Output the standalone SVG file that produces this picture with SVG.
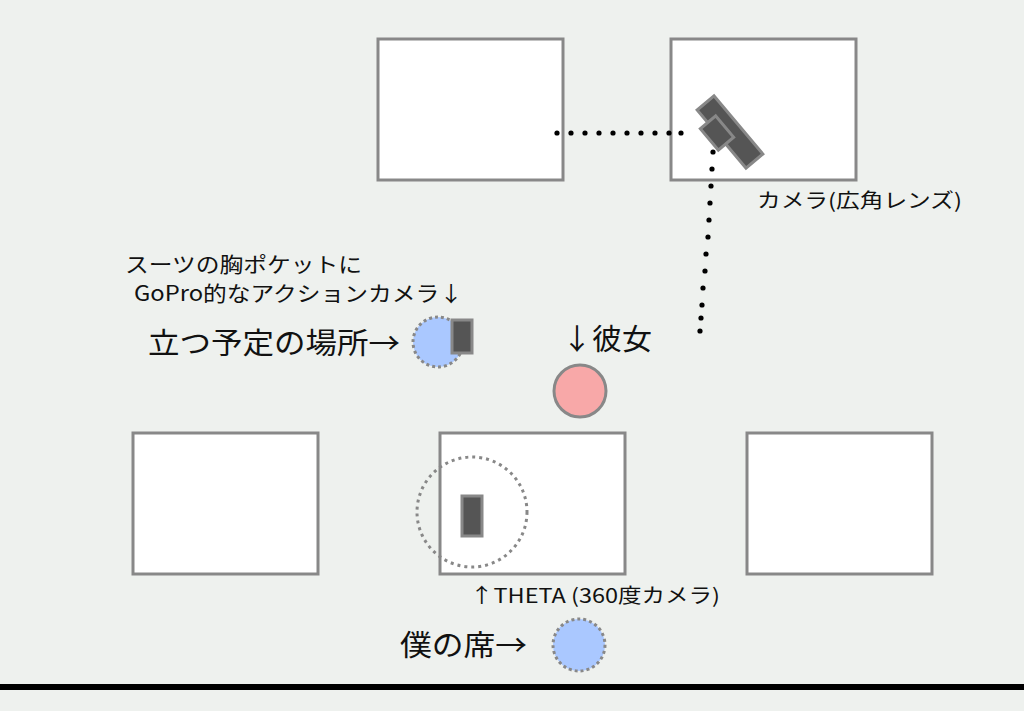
<svg xmlns="http://www.w3.org/2000/svg" width="1024" height="711" viewBox="0 0 1024 711">
<style>
.desk{fill:#fff;stroke:#888;stroke-width:3}
.cam{fill:#555;stroke:#888;stroke-width:3}
.t{font-family:"Noto Sans CJK JP","Noto Sans",sans-serif;fill:#111}
</style>
<rect width="1024" height="711" fill="#eef1ee"/>
<g id="desk1"><rect class="desk" x="378" y="39" width="185" height="141"/></g>
<g id="desk2"><rect class="desk" x="671" y="39" width="185" height="141"/></g>
<g id="desk3"><rect class="desk" x="133" y="433" width="185" height="141"/></g>
<g id="desk4"><rect class="desk" x="440" y="433" width="185" height="141"/></g>
<g id="desk5"><rect class="desk" x="747" y="433" width="185" height="141"/></g>
<g id="connectors" fill="#000">
<circle cx="557" cy="133" r="2.6"/><circle cx="571" cy="133" r="2.6"/><circle cx="585" cy="133" r="2.6"/><circle cx="599" cy="133" r="2.6"/><circle cx="613" cy="133" r="2.6"/><circle cx="627" cy="133" r="2.6"/><circle cx="641" cy="133" r="2.6"/><circle cx="655" cy="133" r="2.6"/><circle cx="669" cy="133" r="2.6"/><circle cx="681" cy="133" r="2.6"/>
<circle cx="713" cy="152" r="2.6"/><circle cx="712" cy="169" r="2.6"/><circle cx="711" cy="186" r="2.6"/><circle cx="710" cy="203" r="2.6"/><circle cx="709" cy="220" r="2.6"/><circle cx="708" cy="237" r="2.6"/><circle cx="706" cy="254" r="2.6"/><circle cx="705" cy="271" r="2.6"/><circle cx="703" cy="288" r="2.6"/><circle cx="702" cy="305" r="2.6"/><circle cx="700" cy="331" r="2.6"/><circle cx="701" cy="318" r="2.6"/>
</g>
<g id="wide-camera">
<rect class="cam" x="-38" y="-11" width="76" height="22" transform="translate(730 132) rotate(50)"/>
<rect class="cam" x="-14" y="-10" width="28" height="20" transform="translate(717 133) rotate(50)"/>
</g>
<g id="stand"><circle cx="438" cy="342" r="25" fill="#aac8ff" stroke="#888" stroke-width="3" stroke-dasharray="3 3"/>
<rect class="cam" x="452" y="320" width="20" height="33"/></g>
<g id="her"><circle cx="580" cy="391" r="26" fill="#f8a8a8" stroke="#888" stroke-width="3"/></g>
<g id="theta"><circle cx="472" cy="512" r="55" fill="none" stroke="#888" stroke-width="3" stroke-dasharray="3 4"/>
<rect class="cam" x="462" y="496" width="20" height="40"/></g>
<g id="me"><circle cx="579" cy="645" r="26" fill="#aac8ff" stroke="#888" stroke-width="3" stroke-dasharray="3 3"/></g>
<text class="t" x="757" y="208" font-size="20" textLength="205" lengthAdjust="spacingAndGlyphs">カメラ(広角レンズ)</text>
<text class="t" x="125" y="272" font-size="21" textLength="237" lengthAdjust="spacingAndGlyphs">スーツの胸ポケットに</text>
<text class="t" x="134" y="301" font-size="21" textLength="329" lengthAdjust="spacingAndGlyphs">GoPro的なアクションカメラ↓</text>
<text class="t" x="148" y="354" font-size="29" textLength="252" lengthAdjust="spacingAndGlyphs">立つ予定の場所→</text>
<text class="t" x="562" y="350" font-size="29" textLength="90" lengthAdjust="spacingAndGlyphs">↓彼女</text>
<text class="t" x="470" y="603" font-size="20" textLength="250" lengthAdjust="spacingAndGlyphs">↑THETA (360度カメラ)</text>
<text class="t" x="400" y="656" font-size="29" textLength="127" lengthAdjust="spacingAndGlyphs">僕の席→</text>
<rect x="0" y="684" width="1024" height="6" fill="#000"/>
</svg>
